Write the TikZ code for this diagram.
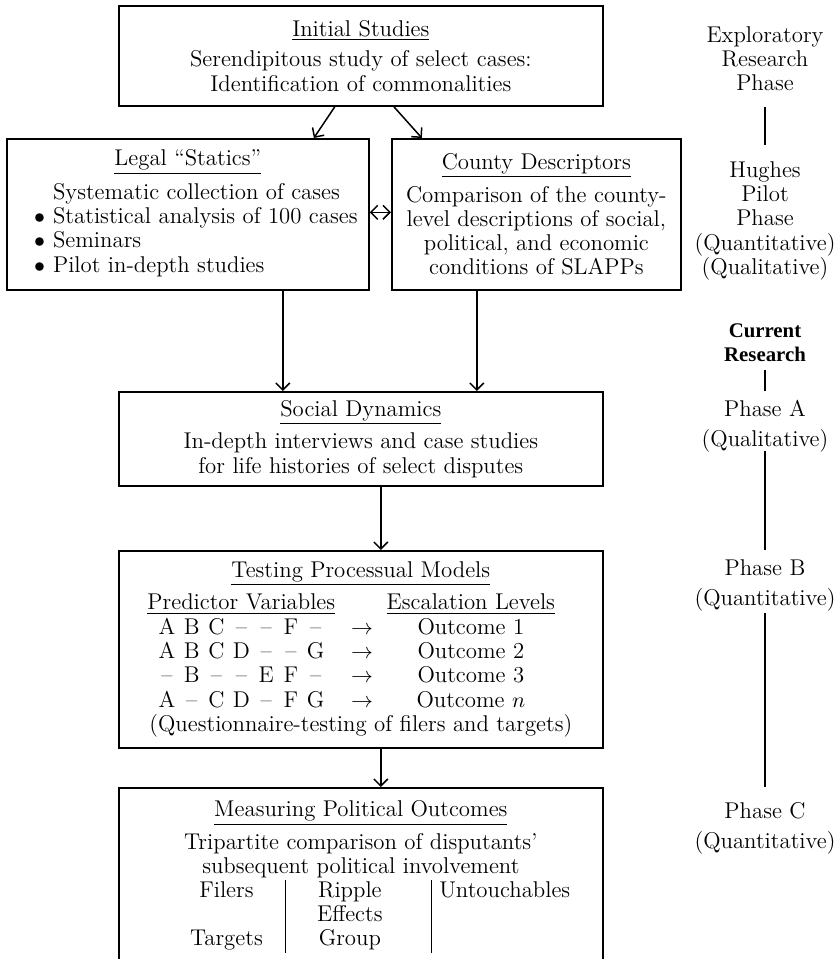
\documentclass[tikz,border=0pt]{standalone}
\usepackage{fontspec}
\usetikzlibrary{arrows.meta}
\newfontfamily\timesface{Liberation Serif}
\newcommand{\boxfont}{\fontsize{11.4}{12.15}\selectfont}
\newcommand{\curfont}{\timesface\bfseries\fontsize{10.4}{12}\selectfont}
\newcommand{\pv}[7]{\makebox[12.4pt]{#1}\makebox[12.4pt]{#2}\makebox[12.4pt]{#3}\makebox[12.4pt]{#4}\makebox[12.4pt]{#5}\makebox[12.4pt]{#6}\makebox[12.4pt]{#7}}
\newcommand{\outrow}[1]{\makebox[33.85pt]{$\rightarrow$}\makebox[75pt]{#1}\makebox[10.65pt]{}}
\begin{document}
\begin{tikzpicture}[x=0.5pt, y=-0.5pt, >={Straight Barb[length=3.5pt,width=7pt]},
  box/.style = {draw, line width=0.85pt, anchor=north west, align=center, inner sep=0pt, font=\boxfont},
  phase/.style = {anchor=north, align=center, inner sep=0pt, font=\boxfont},
  link/.style = {->, line width=0.75pt},
  vline/.style = {line width=0.7pt}]
\useasboundingbox (0,0) rectangle (838,959);

\node[box, minimum width=242pt, minimum height=50pt] (init) at (118,5)
  {\underline{Initial Studies}\\[3pt]
   Serendipitous study of select cases:\\
   Identification of commonalities};
\node[box, minimum width=181pt, minimum height=75.5pt] (legal) at (6,138)
  {\underline{Legal “Statics”}\\[3pt]
   \begin{tabular}{@{\hspace{8pt}}c@{\hspace{4pt}}l@{}}
    & Systematic collection of cases\\
   $\bullet$ & Statistical analysis of 100 cases\\
   $\bullet$ & Seminars\\
   $\bullet$ & Pilot in-depth studies
   \end{tabular}};
\node[box, minimum width=144.5pt, minimum height=75.5pt] (county) at (391,138)
  {\underline{County Descriptors}\\[3pt]
   Comparison of the county-\\
   level descriptions of social,\\
   political, and economic\\
   conditions of SLAPPs};
\node[box, minimum width=242pt, minimum height=47pt] (social) at (118,391)
  {\underline{Social Dynamics}\\[3pt]
   In-depth interviews and case studies\\
   for life histories of select disputes};
\node[box, minimum width=242pt, minimum height=98.5pt] (testing) at (118,550)
  {\underline{Testing Processual Models}\\[3pt]
   \makebox[86.8pt]{\underline{Predictor Variables}}\makebox[33.85pt]{}\makebox[75pt]{\underline{Escalation Levels}}\makebox[10.65pt]{}\\
   \pv{A}{B}{C}{--}{--}{F}{--}\outrow{Outcome 1}\\
   \pv{A}{B}{C}{D}{--}{--}{G}\outrow{Outcome 2}\\
   \pv{--}{B}{--}{--}{E}{F}{--}\outrow{Outcome 3}\\
   \pv{A}{--}{C}{D}{--}{F}{G}\outrow{Outcome $n$}\\
   (Questionnaire-testing of filers and targets)};
\node[box, minimum width=242pt, minimum height=89pt] (measure) at (118,787)
  {\underline{Measuring Political Outcomes}\\[3pt]
   Tripartite comparison of disputants’\\
   subsequent political involvement\\
   \begin{tabular}{@{\hspace{8pt}}c@{}|@{}c@{\hspace{9pt}}|@{\hspace{3.5pt}}l@{}}
   \makebox[59pt]{Filers} & \makebox[64pt]{Ripple} & Untouchables\\
    & Effects & \\
   Targets & Group &
   \end{tabular}};

\node[phase] (phexp) at (765,26) {Exploratory\\Research\\Phase};
\node[phase] (phpilot) at (765,161) {Hughes\\Pilot\\Phase\\(Quantitative)\\(Qualitative)};
\node[phase, font=\curfont] (phcur) at (765,323) {Current\\Research};
\node[phase] (phA) at (765,400) {Phase A\\[3pt](Qualitative)};
\node[phase] (phB) at (765,559) {Phase B\\[3pt](Quantitative)};
\node[phase] (phC) at (765,802) {Phase C\\[3pt](Quantitative)};

\draw[link] ([xshift=-13pt]init.south) -- ([xshift=63pt]legal.north);
\draw[link] ([xshift=16.5pt]init.south) -- ([xshift=-57.25pt]county.north);
\draw[<->, line width=0.75pt] ([yshift=1pt]legal.east) -- ([yshift=1pt]county.west);
\coordinate (l1) at ([xshift=47.5pt]legal.south);
\coordinate (c1) at ([xshift=-29.75pt]county.south);
\coordinate (s1) at ([xshift=10pt]social.south);
\coordinate (t1) at ([xshift=10pt]testing.south);
\draw[link] (l1) -- (l1 |- social.north);
\draw[link] (c1) -- (c1 |- social.north);
\draw[link] (s1) -- (s1 |- testing.north);
\draw[link] (t1) -- (t1 |- measure.north);

\draw[vline, shorten <=8pt, shorten >=8pt] (phexp.south) -- (phpilot.north);
\draw[vline, shorten <=4pt, shorten >=4.5pt] (phcur.south) -- (phA.north);
\draw[vline, shorten <=-1pt, shorten >=4.5pt] (phA.south) -- (phB.north);
\draw[vline, shorten <=0.5pt, shorten >=7.5pt] (phB.south) -- (phC.north);
\end{tikzpicture}
\end{document}
